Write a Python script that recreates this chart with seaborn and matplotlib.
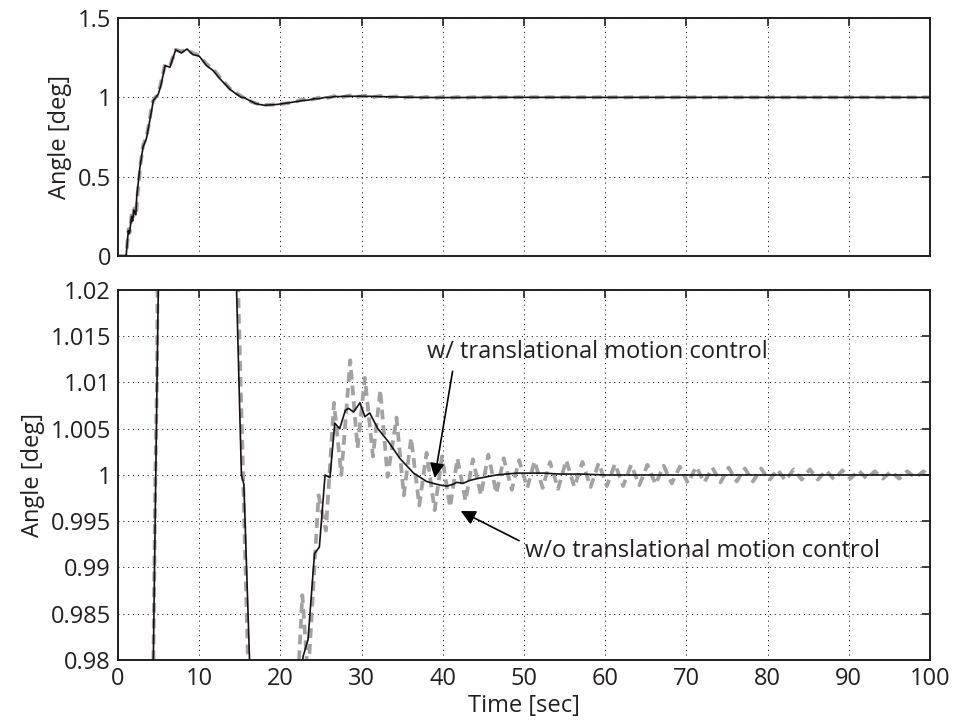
import matplotlib
matplotlib.use("Agg")
import matplotlib.pyplot as plt
import seaborn as sns

# with translational motion control (black solid)
t_with = [0, 1.0, 1.07, 1.27, 1.4, 1.68, 1.8, 1.95, 2.2, 2.3, 2.7, 3.1, 3.5, 3.9, 4.15,
          4.35, 4.65, 4.96, 5.3, 5.8, 6.4, 7.1, 7.8, 8.5, 9.2, 10.0, 10.9, 11.7, 12.5,
          13.8, 14.6, 15.2, 15.5, 16.2, 17.0, 18.0, 19.5, 21.2, 22.8, 23.4, 24.2, 24.8,
          25.5, 26.1, 26.7, 27.3, 28.0, 28.4, 29.0, 29.8, 30.4, 31.0, 32.0, 33.3, 34.7,
          36.4, 38.0, 39.0, 39.7, 40.5, 41.3, 41.7, 42.5, 43.3, 44.2, 45.4, 46.6, 47.8,
          49.1, 50.5, 52.4, 54.4, 56.9, 60.0, 65.0, 70.0, 80.0, 90.0, 100.0]
y_with = [0, 0, 0.04, 0.16, 0.14, 0.25, 0.22, 0.29, 0.26, 0.37, 0.56, 0.69, 0.74, 0.85, 0.92,
          0.98, 1.0, 1.02, 1.08, 1.20, 1.19, 1.30, 1.28, 1.305, 1.27, 1.26, 1.20, 1.17, 1.12,
          1.05, 1.02, 1.0, 0.999, 0.98, 0.96, 0.95, 0.955, 0.967, 0.9804, 0.9822, 0.9915, 0.9922,
          1.0, 0.9997, 1.0056, 1.0050, 1.0070, 1.0072, 1.0068, 1.0078, 1.0063, 1.0067, 1.0050,
          1.0036, 1.0018, 1.0002, 0.9993, 0.99905, 0.9989, 0.9988, 0.9990, 0.9992, 0.9991,
          0.9994, 0.9996, 0.9998, 1.0, 1.0001, 1.0002, 1.0002, 1.0002, 1.0001, 1.0001, 1.0,
          1.0, 1.0, 1.0, 1.0, 1.0]

# without translational motion control (gray dashed)
t_without = [0, 1.0, 1.1, 1.3, 1.45, 1.7, 1.85, 2.0, 2.25, 2.4, 2.75, 3.1, 3.5, 3.9, 4.1,
             4.3, 4.6, 4.8, 5.2, 5.8, 6.4, 7.1, 7.8, 8.5, 9.2, 10.0, 10.9, 11.7, 12.5,
             13.8, 14.8, 15.4, 16.0, 17.0, 18.0, 19.5, 21.2, 22.0, 22.7, 23.4, 24.7, 25.6,
             26.6, 27.5, 28.6, 29.5, 30.4, 31.4, 32.3, 33.2, 34.3, 35.2, 36.1, 37.1, 38.0,
             39.0, 39.9, 40.9, 41.8, 42.8, 43.7, 44.7, 45.6, 46.6, 47.5, 48.5, 49.4, 50.4,
             51.3, 52.3, 53.2, 54.2, 55.2, 56.2, 57.2, 58.2, 59.2, 60.2, 61.2, 62.2, 63.2,
             64.2, 65.2, 66.2, 67.2, 68.2, 69.2, 70.2, 71.2, 72.2, 73.2, 74.2, 75.2, 76.2,
             77.2, 78.2, 79.2, 80.2, 81.2, 82.2, 83.2, 84.2, 85.2, 86.2, 87.2, 88.2, 89.2,
             90.2, 91.2, 92.2, 93.2, 94.2, 95.2, 96.2, 97.2, 98.2, 99.2, 100.0]
y_without = [0, 0, 0.05, 0.17, 0.15, 0.27, 0.24, 0.30, 0.27, 0.38, 0.57, 0.70, 0.75, 0.86, 0.93,
             0.975, 1.0, 1.01, 1.07, 1.21, 1.20, 1.30, 1.29, 1.30, 1.28, 1.265, 1.21, 1.18, 1.13,
             1.055, 1.02, 1.0, 0.98, 0.962, 0.952, 0.955, 0.966, 0.975, 0.987, 0.978, 0.9978, 0.9940,
             1.0078, 1.0000, 1.0124, 1.0029, 1.0105, 1.0020, 1.0092, 0.9998, 1.0062, 0.9978, 1.0040,
             0.9967, 1.0024, 0.9962, 1.0020, 0.9965, 1.0018, 0.9972, 1.0017, 0.9978, 1.0022, 0.9980,
             1.0018, 0.9984, 1.0016, 0.9986, 1.0015, 0.9986, 1.0014, 0.9985, 1.0016, 0.9987, 1.0014,
             0.9987, 1.0013, 0.9988, 1.0012, 0.9988, 1.0011, 0.9989, 1.0011, 0.9990, 1.0010, 0.9991,
             1.0009, 0.9991, 1.0009, 0.9992, 1.0008, 0.9992, 1.0008, 0.9993, 1.0007, 0.9993, 1.0007,
             0.9994, 1.0006, 0.9994, 1.0006, 0.9995, 1.0006, 0.9995, 1.0005, 0.9995, 1.0005, 0.9996,
             1.0005, 0.9996, 1.0004, 0.9996, 1.0004, 0.9996, 1.0004, 0.9997, 1.0004, 0.9998]

x_ticks = list(range(0, 101, 10))
top_yticks = [0, 0.5, 1, 1.5]
top_ylabels = ["0", "0.5", "1", "1.5"]
bot_yticks = [0.98, 0.985, 0.99, 0.995, 1.0, 1.005, 1.01, 1.015, 1.02]
bot_ylabels = ["0.98", "0.985", "0.99", "0.995", "1", "1.005", "1.01", "1.015", "1.02"]

sns.set_style("white")
plt.rcParams['font.family'] = ['Open Sans', 'DejaVu Sans']

FS = 17
INK = "#231f20"

fig = plt.figure(figsize=(9.57, 7.22), dpi=100)
ax_top = fig.add_axes([0.1233, 0.6454, 0.8485, 0.3296])
ax_bot = fig.add_axes([0.1233, 0.0859, 0.8485, 0.5125])

gray = "#a2a2a2"


def draw_lines(ax):
    sns.lineplot(x=t_without, y=y_without, ax=ax, color=gray, linewidth=2.7,
                 linestyle=(0, (2.6, 1.6)), estimator=None, sort=False)
    sns.lineplot(x=t_with, y=y_with, ax=ax, color="#1a1010", linewidth=1.2,
                 estimator=None, sort=False)


def style_axes(ax):
    ax.set_xlim(0, 100)
    ax.set_xticks(x_ticks)
    ax.grid(True, linestyle=(0, (1, 4)), color="black", linewidth=0.7)
    ax.tick_params(direction="in", length=6, width=1.2, top=True, right=True,
                   labelsize=FS, colors=INK, pad=5)
    for s in ax.spines.values():
        s.set_linewidth(1.4)
        s.set_color(INK)
        s.set_visible(True)
    ax.set_ylabel("Angle [deg]", fontsize=FS, color=INK, labelpad=4)


draw_lines(ax_top)
style_axes(ax_top)
ax_top.set_ylim(0, 1.5)
ax_top.set_yticks(top_yticks)
ax_top.set_yticklabels(top_ylabels)
ax_top.set_xticklabels([])
ax_top.set_xlabel("")

draw_lines(ax_bot)
style_axes(ax_bot)
ax_bot.set_ylim(0.98, 1.02)
ax_bot.set_yticks(bot_yticks)
ax_bot.set_yticklabels(bot_ylabels)
ax_bot.set_xticklabels([str(v) for v in x_ticks])
ax_bot.set_xlabel("Time [sec]", fontsize=FS, color=INK, labelpad=2)

ax_bot.annotate("w/ translational motion control", xy=(39.0, 0.99968), xytext=(38.0, 1.0133),
                fontsize=FS, color=INK, ha="left", va="center",
                arrowprops=dict(arrowstyle="-|>", color="black", lw=1.2, mutation_scale=22,
                                shrinkA=3, shrinkB=0, relpos=(0.08, 0.0)))
ax_bot.annotate("w/o translational motion control", xy=(42.2, 0.9961), xytext=(50.1, 0.9918),
                fontsize=FS, color=INK, ha="left", va="center",
                arrowprops=dict(arrowstyle="-|>", color="black", lw=1.2, mutation_scale=22,
                                shrinkA=2, shrinkB=0, relpos=(0.0, 0.8)))

fig.savefig("out.png", dpi=100)
